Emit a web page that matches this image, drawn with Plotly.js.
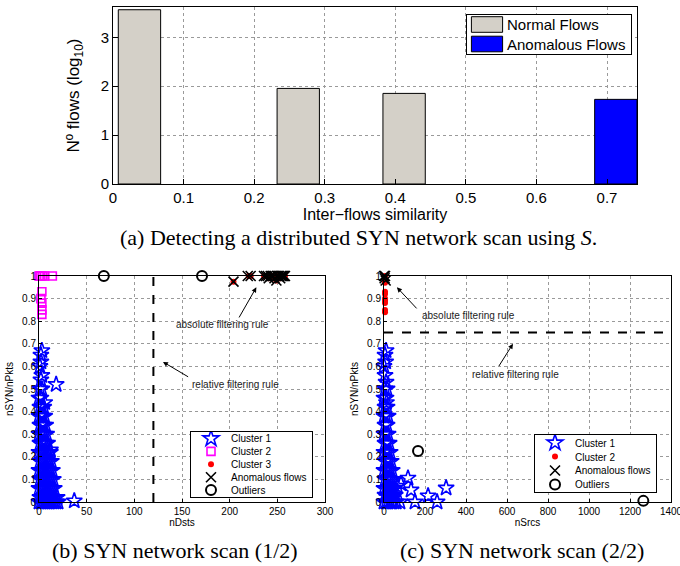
<!DOCTYPE html>
<html>
<head>
<meta charset="utf-8">
<script src="https://cdn.plot.ly/plotly-3.0.1.min.js"></script>
<style>html,body{margin:0;padding:0;background:#fff;}#chart{width:680px;height:566px;}</style>
</head>
<body>
<div id="chart"></div>
<script>
// ---------- (a) histogram of inter-flows similarity ----------
const simNormalX = [0.0375, 0.2625, 0.4125];
const simNormalY = [3.564, 1.955, 1.853];
const simAnomX = [0.7125];
const simAnomY = [1.731];

// ---------- (b) nDsts vs nSYN/nPkts ----------
const bC1x = [0,2,4,6,8,10,12,14,16,18,20, 1,3,5,7,9,11,13,15,17,19, 0,2,4,6,8,10,12,14,16,
  1,3,5,7,9,11,13,15, 0,2,4,6,8,10,12,14, 1,3,5,7,9,11,13, 0,2,4,6,8,10,12,
  1,3,5,7,9, 0,2,4,6,8, 1,3,5,7, 0,2,4,6, 1,3,5, 6, 0,2, 1,3, 2,3,1,2,2,3, 18,12,37];
const bC1y = [0,0,0,0,0,0,0,0,0,0,0, 0.02,0.02,0.02,0.02,0.02,0.02,0.02,0.02,0.02,0.02,
  0.06,0.06,0.06,0.06,0.06,0.06,0.06,0.06,0.06, 0.1,0.1,0.1,0.1,0.1,0.1,0.1,0.1,
  0.14,0.14,0.14,0.14,0.14,0.14,0.14,0.14, 0.18,0.18,0.18,0.18,0.18,0.18,0.18,
  0.22,0.22,0.22,0.22,0.22,0.22,0.22, 0.26,0.26,0.26,0.26,0.26, 0.3,0.3,0.3,0.3,0.3,
  0.34,0.34,0.34,0.34, 0.38,0.38,0.38,0.38, 0.42,0.42,0.42, 0.44, 0.46,0.46, 0.5,0.5,
  0.54,0.56,0.6,0.62,0.65,0.67, 0.52,0.23,0.005];
const bC2x = [0,1,2,4,6,14,3,2,3,3,3];
const bC2y = [1,1,1,1,1,1,0.93,0.9,0.88,0.85,0.83];
const bC3x = [204,220,222,236,238,240,241,243,244,246,247,249,250,251,252,253,254,255,256,257,258];
const bC3y = [0.975,1,1,1,1,1,0.99,1,1,1,0.99,0.98,1,1,1,0.99,1,1,1,1,1];
const bAnx = [204,219,222,236,238,240,241,243,244,246,247,249,250,251,252,253,254,255,256,257,258];
const bAny = [0.975,1,1,1,1,1,0.99,1,1,1,0.99,0.98,1,1,1,0.99,1,1,1,1,1];
const bOutx = [68,171];
const bOuty = [1,1];
const bRelRule = 120;

// ---------- (c) nSrcs vs nSYN/nPkts ----------
const cC1x = [0,10,20,30,40,50,60, 5,15,25,35,45,55, 0,10,20,30,40,50, 5,15,25,35,45,
  0,10,20,30,40, 5,15,25,35, 0,10,20,30, 5,15,25, 0,10,20, 5,15, 0,10,20, 5,15, 12,
  0,10, 5,15, 10, 5, 0, 8, 5, 10, 117,83,132,151,215,259,303,78,65];
const cC1y = [0,0,0,0,0,0,0, 0.03,0.03,0.03,0.03,0.03,0.03, 0.06,0.06,0.06,0.06,0.06,0.06,
  0.1,0.1,0.1,0.1,0.1, 0.14,0.14,0.14,0.14,0.14, 0.18,0.18,0.18,0.18, 0.22,0.22,0.22,0.22,
  0.26,0.26,0.26, 0.3,0.3,0.3, 0.34,0.34, 0.38,0.38,0.38, 0.42,0.42, 0.44,
  0.46,0.46, 0.5,0.5, 0.53, 0.56, 0.6, 0.62, 0.65, 0.67, 0.106,0.08,0.053,0.0,0.027,0.0,0.062,0.0,0.07];
const cC2x = [5,5,5,5,5,5,5,5,5,5];
const cC2y = [0.84,0.85,0.88,0.89,0.9,0.92,0.93,0.97,0.98,1];
const cAnx = [0,3,5,8];
const cAny = [1,0.99,1,0.98];
const cOutx = [166,1265];
const cOuty = [0.226,0.005];
const cRelRule = 0.75;

const W = 680, H = 566;
function px(x){return x/W;}
function py(y){return 1-y/H;}

const gridStyle = {showgrid:true, gridcolor:'#9a9a9a', griddash:'dot', gridwidth:1,
  zeroline:false, showline:true, mirror:true, linecolor:'#000', linewidth:1,
  ticks:'inside', tickcolor:'#000', automargin:false};
const FONT = 'Liberation Sans, Arial, sans-serif';

const starM = {symbol:'star-open', size:12, color:'#0000ff', line:{width:1.6, color:'#0000ff'}};

const traces = [
  {type:'bar', x:simNormalX, y:simNormalY, width:0.06, name:'Normal Flows', xaxis:'x', yaxis:'y',
   marker:{color:'#d4d0c8', line:{color:'#000', width:1}}, legend:'legend'},
  {type:'bar', x:simAnomX, y:simAnomY, width:0.06, name:'Anomalous Flows', xaxis:'x', yaxis:'y',
   marker:{color:'#0000ff', line:{color:'#000', width:1}}, legend:'legend'},

  {type:'scatter', mode:'markers', x:bC1x, y:bC1y, name:'Cluster 1', xaxis:'x2', yaxis:'y2', marker:starM, legend:'legend2', cliponaxis:false},
  {type:'scatter', mode:'markers', x:bC2x, y:bC2y, name:'Cluster 2', xaxis:'x2', yaxis:'y2',
   marker:{symbol:'square-open', size:8, color:'#ff00ff', line:{width:1.6, color:'#ff00ff'}}, legend:'legend2', cliponaxis:false},
  {type:'scatter', mode:'markers', x:bC3x, y:bC3y, name:'Cluster 3', xaxis:'x2', yaxis:'y2',
   marker:{symbol:'circle', size:6, color:'#ff0000'}, legend:'legend2', cliponaxis:false},
  {type:'scatter', mode:'markers', x:bAnx, y:bAny, name:'Anomalous flows', xaxis:'x2', yaxis:'y2',
   marker:{symbol:'x-thin-open', size:10, color:'#000', line:{width:1.6, color:'#000'}}, legend:'legend2', cliponaxis:false},
  {type:'scatter', mode:'markers', x:bOutx, y:bOuty, name:'Outliers', xaxis:'x2', yaxis:'y2',
   marker:{symbol:'circle-open', size:10, color:'#000', line:{width:2, color:'#000'}}, legend:'legend2', cliponaxis:false},
  {type:'scatter', mode:'lines', x:[bRelRule,bRelRule], y:[0,1], xaxis:'x2', yaxis:'y2', showlegend:false,
   line:{color:'#000', width:2, dash:'dash'}},

  {type:'scatter', mode:'markers', x:cC1x, y:cC1y, name:'Cluster 1', xaxis:'x3', yaxis:'y3', marker:starM, legend:'legend3', cliponaxis:false},
  {type:'scatter', mode:'markers', x:cC2x, y:cC2y, name:'Cluster 2', xaxis:'x3', yaxis:'y3',
   marker:{symbol:'circle', size:6, color:'#ff0000'}, legend:'legend3', cliponaxis:false},
  {type:'scatter', mode:'markers', x:cAnx, y:cAny, name:'Anomalous flows', xaxis:'x3', yaxis:'y3',
   marker:{symbol:'x-thin-open', size:10, color:'#000', line:{width:1.6, color:'#000'}}, legend:'legend3', cliponaxis:false},
  {type:'scatter', mode:'markers', x:cOutx, y:cOuty, name:'Outliers', xaxis:'x3', yaxis:'y3',
   marker:{symbol:'circle-open', size:10, color:'#000', line:{width:2, color:'#000'}}, legend:'legend3', cliponaxis:false},
  {type:'scatter', mode:'lines', x:[0,1400], y:[cRelRule,cRelRule], xaxis:'x3', yaxis:'y3', showlegend:false,
   line:{color:'#000', width:2, dash:'dash'}}
];

const annFont = {family:FONT, size:10, color:'#222'};
function arrow(xr, yr, x, y, ax, ay){
  return {xref:xr, yref:yr, axref:xr, ayref:yr, x:x, y:y, ax:ax, ay:ay, text:'', showarrow:true,
    arrowhead:2, arrowsize:1, arrowwidth:1, arrowcolor:'#000', standoff:0, startstandoff:0};
}
const capFont = {family:'Liberation Serif, Times New Roman, serif', size:22, color:'#000'};

const layout = {
  width:W, height:H, margin:{l:0,r:0,t:0,b:0}, paper_bgcolor:'#fff', plot_bgcolor:'#fff',
  font:{family:FONT, color:'#000'}, barmode:'overlay', showlegend:true,
  xaxis:Object.assign({}, gridStyle, {domain:[px(113),px(637)], range:[0,0.7425], dtick:0.1, tick0:0,
    ticklen:5, tickfont:{size:15}, anchor:'y',
    title:{text:'Inter\u2212flows similarity', font:{size:16}, standoff:0}}),
  yaxis:Object.assign({}, gridStyle, {domain:[py(184),py(7)], range:[0,3.62], dtick:1,
    ticklen:5, tickfont:{size:15}, anchor:'x',
    title:{text:'Nº flows (log<sub>10</sub>)', font:{size:17}, standoff:16}}),
  xaxis2:Object.assign({}, gridStyle, {domain:[px(39),px(325)], range:[0,300], dtick:50,
    ticklen:3, tickfont:{size:10}, anchor:'y2',
    title:{text:'nDsts', font:{size:10}, standoff:0}}),
  yaxis2:Object.assign({}, gridStyle, {domain:[py(502),py(276)], range:[0,1], dtick:0.1,
    ticklen:3, tickfont:{size:10}, anchor:'x2',
    title:{text:'nSYN/nPkts', font:{size:10}, standoff:6}}),
  xaxis3:Object.assign({}, gridStyle, {domain:[px(384),px(671)], range:[0,1400], dtick:200,
    ticklen:3, tickfont:{size:10}, anchor:'y3', ticklabeloverflow:'allow',
    title:{text:'nSrcs', font:{size:10}, standoff:0}}),
  yaxis3:Object.assign({}, gridStyle, {domain:[py(502),py(276)], range:[0,1], dtick:0.1,
    ticklen:3, tickfont:{size:10}, anchor:'x3',
    title:{text:'nSYN/nPkts', font:{size:10}, standoff:6}}),
  legend:{x:px(632), y:py(14), xanchor:'right', yanchor:'top', bgcolor:'#fff', bordercolor:'#000', borderwidth:1,
    font:{size:15}, tracegroupgap:0, itemwidth:30, traceorder:'normal'},
  legend2:{x:px(190), y:py(431), xanchor:'left', yanchor:'top', bgcolor:'#fff', bordercolor:'#000', borderwidth:1,
    font:{size:10}, tracegroupgap:0, itemwidth:30, traceorder:'normal'},
  legend3:{x:px(534), y:py(434), xanchor:'left', yanchor:'top', bgcolor:'#fff', bordercolor:'#000', borderwidth:1,
    font:{size:10}, tracegroupgap:0, itemwidth:30, traceorder:'normal'},
  annotations:[
    {xref:'x2', yref:'y2', x:193, y:0.785, text:'absolute filtering rule', showarrow:false, font:annFont},
    arrow('x2','y2', 228, 0.95, 209, 0.81),
    {xref:'x2', yref:'y2', x:206, y:0.52, text:'relative filtering rule', showarrow:false, font:annFont},
    arrow('x2','y2', 130, 0.62, 158, 0.55),
    {xref:'x3', yref:'y3', x:410, y:0.825, text:'absolute filtering rule', showarrow:false, font:annFont},
    arrow('x3','y3', 63, 0.95, 166, 0.85),
    {xref:'x3', yref:'y3', x:639, y:0.565, text:'relative filtering rule', showarrow:false, font:annFont},
    arrow('x3','y3', 629, 0.70, 556, 0.595),
    {xref:'paper', yref:'paper', x:px(358), y:py(237), xanchor:'center', yanchor:'middle', text:'(a) Detecting a distributed SYN network scan using <i>S</i>.', showarrow:false, font:capFont},
    {xref:'paper', yref:'paper', x:px(175), y:py(550), xanchor:'center', yanchor:'middle', text:'(b) SYN network scan (1/2)', showarrow:false, font:capFont},
    {xref:'paper', yref:'paper', x:px(522), y:py(550), xanchor:'center', yanchor:'middle', text:'(c) SYN network scan (2/2)', showarrow:false, font:capFont}
  ]
};

// compact the legend rows (MATLAB-like spacing)
function compactLegend(gd, cls, first, step, height, widePatch){
  const lg = gd.querySelector('g.' + cls);
  if(!lg) return;
  const items = lg.querySelectorAll('g.traces');
  items.forEach(function(it, i){
    const m = /translate\(\s*([-\d.e]+)[\s,]+([-\d.e]+)\s*\)/.exec(it.getAttribute('transform') || '');
    const x0 = m ? m[1] : 0;
    it.setAttribute('transform', 'translate(' + x0 + ',' + (first + step*i) + ')');
    if(widePatch){
      it.querySelectorAll('g.legendpoints path').forEach(function(p){
        p.setAttribute('transform', 'translate(20,0) scale(2.6,1.3)');
        p.setAttribute('vector-effect', 'non-scaling-stroke');
      });
    }
  });
  const bg = lg.querySelector('rect.bg');
  if(bg) bg.setAttribute('height', height);
}

Plotly.newPlot('chart', traces, layout, {staticPlot:true, displayModeBar:false}).then(function(gd){
  try{
    compactLegend(gd, 'legend', 10.5, 19.5, 40, true);
    compactLegend(gd, 'legend2', 7.5, 12.9, 66, false);
    compactLegend(gd, 'legend3', 8.7, 13.9, 58, false);
  }catch(e){}
});
</script>
</body>
</html>
